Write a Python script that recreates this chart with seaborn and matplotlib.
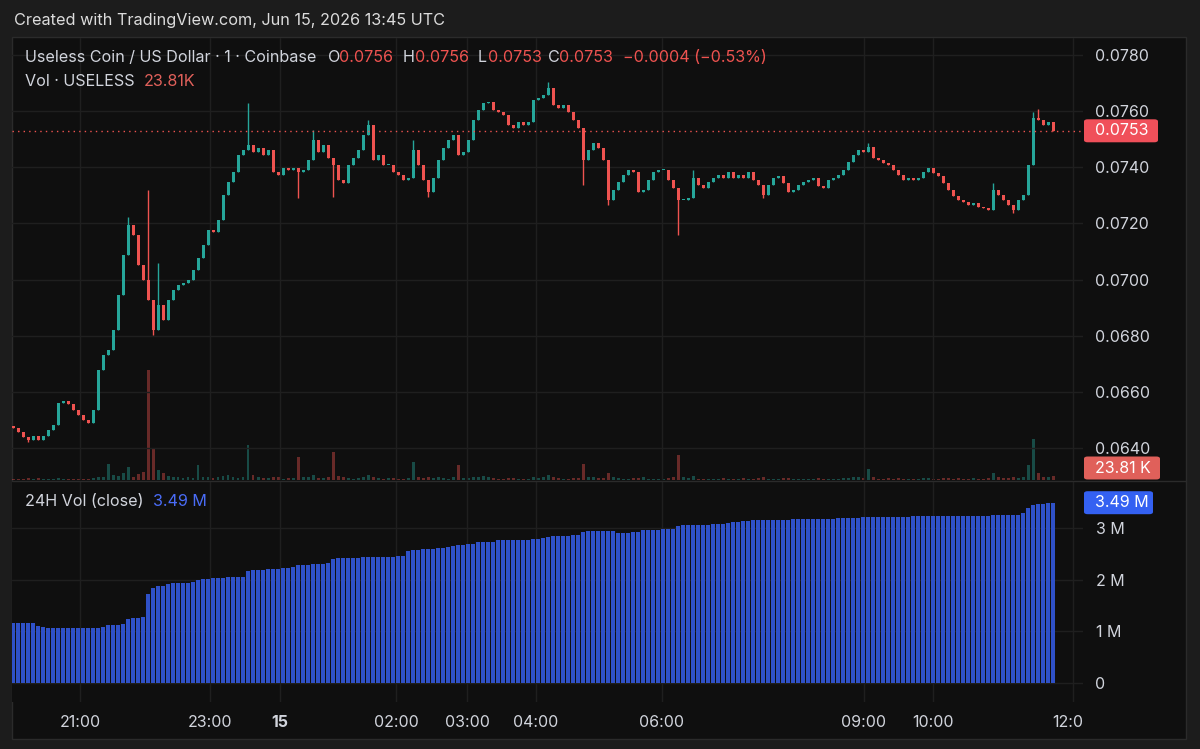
import numpy as np
import pandas as pd
import matplotlib
matplotlib.use('Agg')
import matplotlib.pyplot as plt
from matplotlib.patches import Rectangle, FancyBboxPatch
from matplotlib.lines import Line2D
import seaborn as sns

# 1-min candles (one value per ~5 px column)
closes = [
    0.06471, 0.06457, 0.06439, 0.06428, 0.06443, 0.06428, 0.06443, 0.06464, 0.06482, 0.06560,
    0.06567, 0.06557, 0.06535, 0.06517, 0.06500, 0.06489, 0.06535, 0.06678, 0.06731, 0.06749,
    0.06820, 0.06945, 0.07087, 0.07194, 0.07159, 0.07052, 0.06998, 0.06927, 0.06820, 0.06909,
    0.06856, 0.06927, 0.06963, 0.06981, 0.06988, 0.06998, 0.07034, 0.07077, 0.07123, 0.07177,
    0.07169, 0.07212, 0.07301, 0.07348, 0.07383, 0.07444, 0.07462, 0.07479, 0.07454, 0.07469,
    0.07444, 0.07462, 0.07383, 0.07372, 0.07397, 0.07390, 0.07397, 0.07383, 0.07390, 0.07426,
    0.07497, 0.07454, 0.07479, 0.07433, 0.07408, 0.07355, 0.07344, 0.07408, 0.07433, 0.07462,
    0.07515, 0.07551, 0.07426, 0.07444, 0.07408, 0.07408, 0.07383, 0.07372, 0.07355, 0.07362,
    0.07462, 0.07408, 0.07355, 0.07312, 0.07362, 0.07426, 0.07469, 0.07497, 0.07515, 0.07444,
    0.07454, 0.07497, 0.07568, 0.07604, 0.07629, 0.07633, 0.07604, 0.07597, 0.07586, 0.07551,
    0.07540, 0.07561, 0.07551, 0.07561, 0.07640, 0.07647, 0.07657, 0.07682, 0.07622, 0.07611,
    0.07622, 0.07597, 0.07568, 0.07540, 0.07426, 0.07462, 0.07486, 0.07469, 0.07426, 0.07283,
    0.07319, 0.07348, 0.07372, 0.07390, 0.07383, 0.07312, 0.07319, 0.07355, 0.07383, 0.07390,
    0.07390, 0.07355, 0.07326, 0.07283, 0.07283, 0.07291, 0.07362, 0.07337, 0.07326, 0.07348,
    0.07362, 0.07372, 0.07362, 0.07383, 0.07362, 0.07372, 0.07362, 0.07383, 0.07355, 0.07337,
    0.07301, 0.07337, 0.07362, 0.07369, 0.07344, 0.07312, 0.07319, 0.07337, 0.07348, 0.07355,
    0.07362, 0.07333, 0.07326, 0.07355, 0.07362, 0.07372, 0.07390, 0.07419, 0.07444, 0.07462,
    0.07454, 0.07472, 0.07433, 0.07426, 0.07415, 0.07408, 0.07390, 0.07372, 0.07355, 0.07362,
    0.07355, 0.07362, 0.07383, 0.07397, 0.07380, 0.07369, 0.07344, 0.07319, 0.07298, 0.07283,
    0.07276, 0.07266, 0.07273, 0.07259, 0.07255, 0.07248, 0.07319, 0.07301, 0.07283, 0.07266,
    0.07248, 0.07283, 0.07301, 0.07408, 0.07576, 0.07568, 0.07551, 0.07561, 0.07530,
]
first_open = 0.06480

# wick extremes that stick out of the bodies
hi_idx = [23, 27, 29, 47, 60, 71, 80, 107, 136, 171, 196, 204, 205]
hi_val = [0.07223, 0.07319, 0.07059, 0.07629, 0.07533, 0.07568, 0.07497, 0.07704,
          0.07390, 0.07486, 0.07344, 0.07597, 0.07608]
lo_idx = [3, 28, 57, 64, 83, 114, 119, 133, 150, 200]
lo_val = [0.06422, 0.06802, 0.07291, 0.07294, 0.07294, 0.07337, 0.07266, 0.07159,
          0.07290, 0.07237]

# volume in thousands
volume_k = [
    8, 5, 6, 12, 4, 9, 6, 3, 7, 10,
    6, 4, 5, 8, 5, 4, 12, 20, 15, 95,
    30, 25, 40, 75, 20, 35, 45, 650, 180, 60,
    40, 25, 15, 20, 12, 18, 10, 90, 20, 15,
    12, 18, 25, 30, 15, 10, 20, 205, 30, 15,
    12, 10, 20, 15, 8, 12, 10, 135, 20, 15,
    30, 12, 10, 15, 165, 25, 15, 10, 8, 12,
    20, 30, 15, 10, 8, 12, 10, 6, 8, 10,
    105, 15, 10, 20, 12, 15, 10, 8, 15, 90,
    12, 10, 20, 15, 25, 18, 10, 8, 6, 10,
    12, 8, 5, 8, 15, 12, 20, 30, 15, 10,
    8, 6, 10, 12, 95, 20, 15, 10, 12, 40,
    15, 10, 8, 6, 12, 10, 20, 8, 6, 5,
    8, 10, 15, 145, 20, 10, 25, 8, 6, 5,
    8, 6, 10, 5, 7, 6, 9, 5, 8, 12,
    15, 8, 6, 5, 9, 12, 6, 5, 7, 8,
    6, 10, 8, 5, 6, 8, 10, 12, 15, 18,
    12, 65, 15, 8, 6, 10, 8, 12, 6, 5,
    6, 8, 10, 12, 8, 6, 10, 12, 8, 10,
    8, 6, 10, 8, 6, 12, 40, 15, 10, 12,
    15, 10, 20, 90, 240, 40, 20, 15, 23.81,
]

# rolling 24h volume in millions
vol24_m = [
    1.16, 1.16, 1.16, 1.16, 1.16, 1.10, 1.08, 1.07, 1.06, 1.06,
    1.06, 1.06, 1.06, 1.06, 1.06, 1.06, 1.06, 1.07, 1.08, 1.13,
    1.13, 1.13, 1.14, 1.24, 1.25, 1.26, 1.27, 1.72, 1.84, 1.87,
    1.88, 1.92, 1.93, 1.94, 1.94, 1.94, 1.95, 2.00, 2.01, 2.02,
    2.03, 2.03, 2.04, 2.05, 2.05, 2.06, 2.06, 2.17, 2.18, 2.19,
    2.19, 2.20, 2.21, 2.21, 2.22, 2.23, 2.24, 2.28, 2.29, 2.29,
    2.30, 2.30, 2.31, 2.32, 2.40, 2.41, 2.41, 2.42, 2.42, 2.42,
    2.43, 2.43, 2.43, 2.44, 2.44, 2.44, 2.44, 2.45, 2.45, 2.56,
    2.58, 2.58, 2.59, 2.60, 2.60, 2.61, 2.62, 2.63, 2.66, 2.68,
    2.68, 2.69, 2.70, 2.72, 2.72, 2.73, 2.73, 2.76, 2.76, 2.77,
    2.77, 2.77, 2.77, 2.77, 2.78, 2.79, 2.80, 2.83, 2.84, 2.84,
    2.85, 2.85, 2.86, 2.86, 2.93, 2.94, 2.94, 2.95, 2.95, 2.95,
    2.95, 2.90, 2.90, 2.91, 2.92, 2.93, 2.96, 2.97, 2.97, 2.97,
    2.98, 2.98, 2.99, 3.04, 3.05, 3.05, 3.05, 3.06, 3.06, 3.06,
    3.07, 3.07, 3.08, 3.09, 3.11, 3.12, 3.13, 3.14, 3.15, 3.15,
    3.15, 3.15, 3.16, 3.16, 3.16, 3.16, 3.17, 3.17, 3.17, 3.17,
    3.17, 3.18, 3.18, 3.18, 3.18, 3.19, 3.19, 3.19, 3.20, 3.20,
    3.21, 3.21, 3.21, 3.21, 3.22, 3.22, 3.22, 3.22, 3.22, 3.22,
    3.23, 3.23, 3.23, 3.23, 3.23, 3.23, 3.23, 3.24, 3.24, 3.24,
    3.24, 3.24, 3.24, 3.24, 3.24, 3.24, 3.25, 3.25, 3.25, 3.25,
    3.25, 3.26, 3.30, 3.38, 3.45, 3.46, 3.47, 3.48, 3.49,
]

# time axis: bar position of each labelled hour
tick_pos = [13.4, 39.4, 53.4, 76.6, 90.8, 104.6, 129.8, 170.2, 184.0, 212.0]
tick_labels = ['21:00', '23:00', '15', '02:00', '03:00', '04:00', '06:00', '09:00', '10:00', '12:00']
price_ticks = [0.0640, 0.0660, 0.0680, 0.0700, 0.0720, 0.0740, 0.0760, 0.0780]
vol24_ticks = [0, 1, 2, 3]
vol24_tick_labels = ['0', '1 M', '2 M', '3 M']

UP, DOWN = '#26a69a', '#ef5350'
BG, OUTER, GRID, TXT = '#0f0f0f', '#1c1c1c', '#1f1f1f', '#d1d4dc'
BLUE = '#2f51c8'

sns.set_theme(style='darkgrid', rc={
    'axes.facecolor': BG, 'figure.facecolor': OUTER, 'grid.color': GRID,
    'grid.linewidth': 1.0, 'axes.edgecolor': BG,
})
plt.rcParams['font.family'] = ['Inter', 'DejaVu Sans']

W, H = 1200, 749
fig = plt.figure(figsize=(W / 100, H / 100), dpi=100)

def fx(px):
    return px / W

def fy(py):
    return 1 - py / H

# panel frame, behind every axes
fig.patches.append(Rectangle((fx(12), fy(739)), fx(1186) - fx(12), fy(37) - fy(739),
                             transform=fig.transFigure, facecolor=BG, edgecolor='#2b2b2b',
                             lw=1.0, zorder=-5))

n = len(closes)
idx = np.arange(n)
opens = np.array([first_open] + closes[:-1])
cl = np.array(closes)
highs = np.maximum(opens, cl)
lows = np.minimum(opens, cl)
for k, v in zip(hi_idx, hi_val):
    highs[k] = max(highs[k], v)
for k, v in zip(lo_idx, lo_val):
    lows[k] = min(lows[k], v)
up = cl >= opens
colors = np.where(up, UP, DOWN)

df = pd.DataFrame({'bar': idx, 'vol': volume_k, 'vol24': vol24_m,
                   'dir': np.where(up, 'up', 'down')})

xlim = (-0.2, 214.0)

# ---- price pane
ax = fig.add_axes([fx(12), fy(480), fx(1083) - fx(12), fy(38) - fy(480)])
axv = ax.twinx()
ax.set_zorder(2)
axv.set_zorder(1)
ax.patch.set_visible(False)
axv.patch.set_facecolor(BG)

sns.barplot(data=df, x='bar', y='vol', hue='dir', palette={'up': UP, 'down': DOWN},
            native_scale=True, width=0.6, saturation=1, alpha=0.4, errorbar=None,
            legend=False, linewidth=0, ax=axv)
axv.set_ylim(0, 2600)
axv.set_yticks([])
axv.grid(False)
axv.set_ylabel('')
axv.set_xlabel('')

ax.vlines(idx, lows, highs, colors=colors, lw=1.0, zorder=3)
body_h = np.maximum(np.abs(cl - opens), 0.000035)
ax.bar(idx, body_h, bottom=np.minimum(opens, cl), width=0.6, color=colors,
       linewidth=0, zorder=4)
ax.axhline(closes[-1], color=DOWN, lw=1.0, ls=(0, (1, 3)), zorder=5)

ax.set_ylim(0.062860, 0.078606)
ax.set_xlim(*xlim)
ax.set_xticks(tick_pos)
ax.set_xticklabels([])
ax.set_yticks(price_ticks)
ax.set_yticklabels([f'{p:.4f}' for p in price_ticks])
ax.yaxis.tick_right()
ax.tick_params(axis='y', length=0, pad=9, labelsize=11.5, labelcolor=TXT)
ax.tick_params(axis='x', length=0)
for lab in ax.get_yticklabels():
    lab.set_horizontalalignment('left')
for a in (ax, axv):
    for s in a.spines.values():
        s.set_visible(False)

# ---- 24h volume pane
ax24 = fig.add_axes([fx(12), fy(702), fx(1083) - fx(12), fy(481) - fy(702)])
sns.barplot(data=df, x='bar', y='vol24', native_scale=True, color=BLUE, width=0.86,
            saturation=1, errorbar=None, linewidth=0, ax=ax24)
ax24.set_xlim(*xlim)
ax24.set_ylim(-0.368, 3.91)
ax24.set_xticks(tick_pos)
ax24.set_xticklabels([])
ax24.set_yticks(vol24_ticks)
ax24.set_yticklabels(vol24_tick_labels)
ax24.yaxis.tick_right()
ax24.tick_params(axis='y', length=0, pad=9, labelsize=11.5, labelcolor=TXT)
ax24.tick_params(axis='x', length=0)
for lab in ax24.get_yticklabels():
    lab.set_horizontalalignment('left')
ax24.set_xlabel('')
ax24.set_ylabel('')
for s in ax24.spines.values():
    s.set_visible(False)

# pane separator
fig.lines.append(Line2D([fx(12), fx(1186)], [fy(480.5), fy(480.5)], transform=fig.transFigure,
                        color='#2b2b2b', lw=1.0))

# ---- time axis strip
axt = fig.add_axes([fx(12), fy(739), fx(1083) - fx(12), fy(702) - fy(739)])
axt.set_xlim(*xlim)
axt.set_ylim(0, 1)
axt.axis('off')
for p, lab in zip(tick_pos, tick_labels):
    axt.text(p, 0.45, lab, ha='center', va='center', fontsize=11.5, color=TXT,
             fontweight='bold' if lab == '15' else 'normal', clip_on=True)

# ---- header texts
fig.text(fx(14), fy(20), 'Created with TradingView.com, Jun 15, 2026 13:45 UTC',
         fontsize=11.7, color='#dcdcdc', va='center')

legend_pieces = [
    (25, 'Useless Coin / US Dollar · 1 · Coinbase', TXT),
    (328, 'O', TXT), (339, '0.0756', DOWN),
    (403, 'H', TXT), (415, '0.0756', DOWN),
    (478, 'L', TXT), (488, '0.0753', DOWN),
    (548, 'C', TXT), (559, '0.0753', DOWN),
    (623, '\u22120.0004 (\u22120.53%)', DOWN),
]
for px, s, c in legend_pieces:
    fig.text(fx(px), fy(58), s, fontsize=11.6, color=c, va='center')
fig.text(fx(25), fy(81), 'Vol · USELESS', fontsize=11.6, color=TXT, va='center')
fig.text(fx(144), fy(81), '23.81K', fontsize=11.6, color='#e0605a', va='center')
fig.text(fx(25), fy(502), '24H Vol (close)', fontsize=11.6, color=TXT, va='center')
fig.text(fx(153), fy(502), '3.49 M', fontsize=11.6, color='#4a6cf7', va='center')

# ---- value tags on the right scale
fig.canvas.draw()

def tag(center_py, text, color, width_px):
    fig.patches.append(FancyBboxPatch((fx(1084), fy(center_py + 11.5)), fx(width_px),
                                      23 / H, boxstyle='round,pad=0,rounding_size=0.003',
                                      transform=fig.transFigure, facecolor=color,
                                      edgecolor='none', zorder=5))
    fig.text(fx(1095), fy(center_py), text, fontsize=11.5, color='white', va='center',
             zorder=6)

price_py = H - ax.transData.transform((0, closes[-1]))[1]
vol24_py = H - ax24.transData.transform((0, vol24_m[-1]))[1]
tag(price_py, f'{closes[-1]:.4f}', '#f0505a', 74)
tag(468, '23.81 K', '#e0605a', 76)
tag(vol24_py, '3.49 M', '#3461f2', 69)

fig.savefig('out.png', dpi=100, facecolor=OUTER)
